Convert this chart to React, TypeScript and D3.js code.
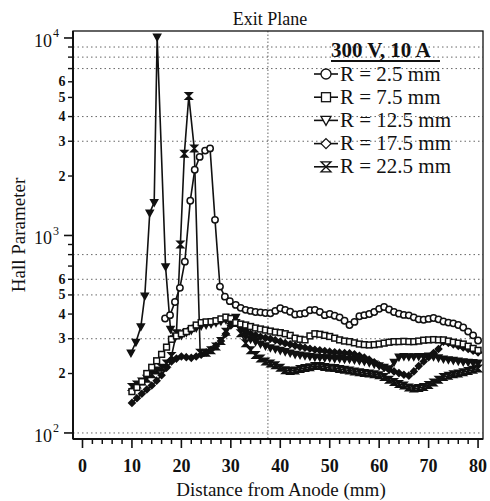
import React from 'react';
import * as d3 from 'd3';

// ---------- data (Hall parameter vs distance from anode) ----------
const DIST = [10,11,12,13,14,15,16,17,18,19,20,21,22,23,24,25,26,27,28,29,30,31,32,33,34,35,36,37,38,39,40,41,42,43,44,45,46,47,48,49,50,51,52,53,54,55,56,57,58,59,60,61,62,63,64,65,66,67,68,69,70,71,72,73,74,75,76,77,78,79,80];

// R = 2.5 mm (circles)
const R25_X = [16.7,17.7,18.7,19.7,20.7,21.8,22.7,23.7,24.8,25.8,26.8,27.8,28.8,29.8,31,32,33,34,35,36,37,38,39,40,41,42,43,44,45,46,47,48,49,50,51,52,53,54,55,56,57,58,59,60,61,62,63,64,65,66,67,68,69,70,71,72,73,74,75,76,77,78,79,80];
const R25_Y = [380,395,460,543,737,1500,2150,2500,2690,2760,1200,551,490,465,
  445,430,420,415,410,408,405,404,415,428,
  420,411,398,400,404,418,420,410,395,400,
  392,385,370,352,365,390,395,400,410,425,
  434,422,410,402,396,394,385,376,374,378,
  382,376,367,362,359,352,342,326,312,294];

// R = 7.5 mm (squares)
const R75_Y = [162,170,182,200,215,232,250,272,298,310,
  318,326,338,352,362,365,366,370,378,386,
  380,362,356,352,346,340,336,332,328,324,
  322,318,312,302,298,296,310,318,316,312,
  308,302,296,292,290,286,282,280,279,280,
  282,285,288,290,290,291,290,290,292,295,
  296,297,296,296,292,288,285,282,275,268,262];

// R = 12.5 mm (triangles)
const R125_X = [9.8,10.8,11.8,12.6,13.6,14.5,15.1,16.8,17.8,18.6,20,21,22,23,24,25,26,27,28,29,30,31,32,33,34,35,36,37,38,39,40,41,42,43,44,45,46,47,48,49,50,51,52,53,54,55,56,57,58,59,60,61,62,63,64,65,66,67,68,69,70,71,72,73,74,75,76,77,78,79,80];
const R125_Y = [254,288,345,494,1300,1470,10100,695,335,300,
  312,322,330,340,348,352,356,362,368,374,
  378,385,340,310,298,290,282,276,270,266,
  262,258,254,250,248,246,244,242,241,240,
  240,238,238,236,236,234,232,230,227,223,
  219,215,211,228,242,244,243,243,244,244,
  245,243,240,237,235,233,231,229,228,227,226];

// R = 17.5 mm (diamonds)
const R175_Y = [142,150,158,166,174,184,196,214,230,238,
  244,242,240,244,249,256,264,276,292,318,
  350,365,345,328,318,312,307,303,300,295,
  290,285,281,277,273,270,267,264,262,260,
  258,256,255,254,253,250,246,241,235,228,
  220,214,209,205,201,197,195,205,218,230,
  242,254,266,290,286,281,276,271,266,261,256];

// R = 22.5 mm (hourglass)
const R225_X = [10,11,12,13,14,15,16,17,18,19,19.8,20.6,21.5,22.6,23.8,25,26,27,28,29,30,31,32,33,34,35,36,37,38,39,40,41,42,43,44,45,46,47,48,49,50,51,52,53,54,55,56,57,58,59,60,61,62,63,64,65,66,67,68,69,70,71,72,73,74,75,76,77,78,79,80];
const R225_Y = [171,176,182,188,198,207,214,225,245,320,900,2590,5080,2760,255,
  255,262,274,292,325,372,
  360,320,285,262,248,238,230,225,220,214,
  208,206,207,211,213,215,218,218,216,214,
  213,211,209,207,205,203,201,200,198,196,
  192,186,181,177,174,170,168,169,171,175,
  180,186,192,195,198,200,203,206,209,212];

const SERIES_NAMES = ['R = 2.5 mm', 'R = 7.5 mm', 'R = 12.5 mm', 'R = 17.5 mm', 'R = 22.5 mm'];
const SERIES_SYMBOLS = ['circle', 'square', 'triangle', 'diamond', 'hourglass'];
const LEGEND_TITLE = '300 V, 10 A';

const X_MAJOR = [0,10,20,30,40,50,60,70,80];
const X_MINOR = [2,4,6,8,12,14,16,18,22,24,26,28,32,34,36,38,42,44,46,48,52,54,56,58,62,64,66,68,72,74,76,78];
const Y_DECADES = [100, 1000, 10000];
const Y_MINOR_MULT = [2,3,4,5,6,7,8,9];
const Y_MINOR_LABELED = [2,3,4,5,6];
const Y_GRID = [100, 300, 500, 600, 800, 3000, 4000, 7000, 8000, 9000];
const X_GRID = [37.5];

const FONT = 'Liberation Serif, Times New Roman, serif';

function Marker({ type, cx, cy, s, fill, sw = 1.3 }: { type: string; cx: number; cy: number; s: number; fill: string; sw?: number }) {
  const h = s / 2;
  const common = { fill, stroke: '#111', strokeWidth: sw };
  if (type === 'circle') return <circle cx={cx} cy={cy} r={h} {...common} />;
  if (type === 'square') return <rect x={cx - h} y={cy - h} width={s} height={s} {...common} />;
  if (type === 'triangle')
    return <path d={`M${cx - h},${cy - h * 0.8}L${cx + h},${cy - h * 0.8}L${cx},${cy + h}Z`} {...common} />;
  if (type === 'diamond')
    return <path d={`M${cx},${cy - h}L${cx + h},${cy}L${cx},${cy + h}L${cx - h},${cy}Z`} {...common} />;
  return <path d={`M${cx - h},${cy - h}L${cx + h},${cy - h}L${cx - h},${cy + h}L${cx + h},${cy + h}Z`} {...common} />;
}

export default function App() {
  const L = 73, R = 483, T = 31, B = 439;
  const x = d3.scaleLinear().domain([-1.92, 81.0]).range([L, R]);
  const y = d3.scaleLog().domain([93.2, 10848]).range([B, T]);
  const line = d3.line<[number, number]>().x(d => x(d[0])).y(d => y(d[1]));

  const series = [
    { xs: R225_X, ys: R225_Y, sym: SERIES_SYMBOLS[4], fill: '#111', size: 6.5 },
    { xs: DIST, ys: R175_Y, sym: SERIES_SYMBOLS[3], fill: '#111', size: 6.5 },
    { xs: R125_X, ys: R125_Y, sym: SERIES_SYMBOLS[2], fill: '#111', size: 7 },
    { xs: DIST, ys: R75_Y, sym: SERIES_SYMBOLS[1], fill: '#fff', size: 5.8 },
    { xs: R25_X, ys: R25_Y, sym: SERIES_SYMBOLS[0], fill: '#fff', size: 6.4 },
  ];

  const minorY: number[] = [];
  Y_DECADES.slice(0, 2).forEach(d => Y_MINOR_MULT.forEach(m => minorY.push(d * m)));
  const ts = { fontFamily: FONT };

  return (
    <svg width={490} height={501} style={{ position: 'absolute', left: 0, top: 0, background: '#fff' }}>
      <rect x={0} y={0} width={490} height={501} fill="#fff" />
      {/* grid */}
      {Y_GRID.map(v => (
        <line key={'gy' + v} x1={L} x2={R} y1={y(v)} y2={y(v)} stroke="#555" strokeWidth={0.9} strokeDasharray="1.5 3" />
      ))}
      {X_GRID.map(v => (
        <line key={'gx' + v} x1={x(v)} x2={x(v)} y1={T} y2={B} stroke="#555" strokeWidth={0.9} strokeDasharray="1.5 2" />
      ))}

      {/* series */}
      {series.map((s, i) => {
        const pts = s.xs.map((xv, j) => [xv, s.ys[j]] as [number, number]);
        return (
          <g key={'s' + i}>
            <path d={line(pts) || ''} fill="none" stroke="#111" strokeWidth={1.6} />
            {pts.map((p, j) => (
              <Marker key={j} type={s.sym} cx={x(p[0])} cy={y(p[1])} s={s.size} fill={s.fill} sw={1.5} />
            ))}
          </g>
        );
      })}

      {/* frame */}
      <rect x={L} y={T} width={R - L} height={B - T} fill="none" stroke="#111" strokeWidth={1.3} />
      <line x1={L} x2={L} y1={T} y2={B} stroke="#111" strokeWidth={2} />
      <line x1={L} x2={R} y1={B} y2={B} stroke="#111" strokeWidth={2} />

      {/* x ticks */}
      {X_MINOR.map(v => (
        <line key={'xm' + v} x1={x(v)} x2={x(v)} y1={B} y2={B + 5} stroke="#111" strokeWidth={1.5} />
      ))}
      {X_MAJOR.map(v => (
        <g key={'xM' + v}>
          <line x1={x(v)} x2={x(v)} y1={B} y2={B + 9} stroke="#111" strokeWidth={1.6} />
          <text x={x(v)} y={472} textAnchor="middle" fontSize={18} fontWeight="bold" fill="#111" style={ts}>{v}</text>
        </g>
      ))}

      {/* y ticks */}
      {minorY.map(v => (
        <line key={'ym' + v} x1={L - 5} x2={L} y1={y(v)} y2={y(v)} stroke="#111" strokeWidth={1.4} />
      ))}
      {Y_DECADES.slice(0, 2).map(d =>
        Y_MINOR_LABELED.map(m => (
          <text key={'yl' + d * m} x={65.5} y={y(d * m) + 4.5} textAnchor="end" fontSize={14} fontWeight="bold" fill="#111" style={ts}>{m}</text>
        ))
      )}
      {Y_DECADES.map(d => (
        <g key={'yM' + d}>
          <line x1={L - 9} x2={L} y1={y(d)} y2={y(d)} stroke="#111" strokeWidth={1.6} />
          <text x={52} y={y(d) + 9} textAnchor="end" fontSize={18} fill="#111" style={ts}>10</text>
          <text x={53} y={y(d) - 0.5} fontSize={12} fill="#111" style={ts}>{Math.round(Math.log10(d))}</text>
        </g>
      ))}

      {/* titles */}
      <text x={270} y={25} textAnchor="middle" fontSize={18} fill="#111" style={ts}>Exit Plane</text>
      <text x={281} y={496} textAnchor="middle" fontSize={19} fill="#111" style={ts}>Distance from Anode (mm)</text>
      <text transform="translate(25,235) rotate(-90)" textAnchor="middle" fontSize={19} fill="#111" style={ts}>Hall Parameter</text>

      {/* legend */}
      <text x={331} y={57} fontSize={21} fontWeight="bold" fill="#111" style={ts}>{LEGEND_TITLE}</text>
      <line x1={331} x2={440} y1={61} y2={61} stroke="#111" strokeWidth={2} />
      {SERIES_NAMES.map((name, i) => {
        const cy = 74 + i * 23.2;
        return (
          <g key={'lg' + i}>
            <line x1={314} x2={338} y1={cy} y2={cy} stroke="#111" strokeWidth={1.6} />
            <Marker type={SERIES_SYMBOLS[i]} cx={326} cy={cy} s={i === 1 ? 9 : 10} fill="#fff" />
            <text x={340} y={cy + 6.5} fontSize={21} fill="#111" style={ts}>{name}</text>
          </g>
        );
      })}
    </svg>
  );
}
